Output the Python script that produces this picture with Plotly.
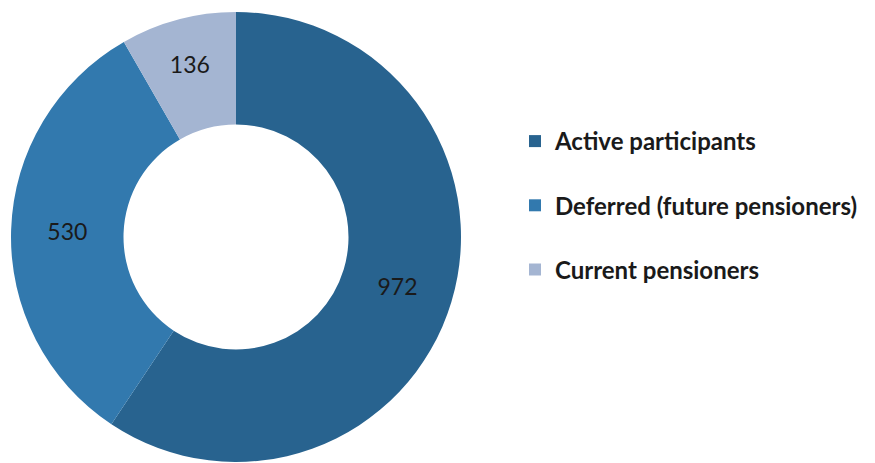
import plotly.graph_objects as go

# Participant counts by category
labels = ["Active participants", "Deferred (future pensioners)", "Current pensioners"]
values = [972, 530, 136]
colors = ["#28638F", "#3279AE", "#A4B5D2"]

fig = go.Figure()

fig.add_trace(go.Pie(
    labels=labels,
    values=values,
    hole=0.5,
    sort=False,
    direction="clockwise",
    rotation=0,
    marker=dict(colors=colors, line=dict(width=0)),
    textinfo="value",
    textposition="inside",
    insidetextorientation="horizontal",
    textfont=dict(family="Lato", size=23, color="#1a1a1a"),
    domain=dict(x=[10 / 875, 462 / 875], y=[0, 1]),
    showlegend=False,
    hoverinfo="label+value",
))

# legend entries (one group each so the gap between rows can be set)
for lab, col in zip(labels, colors):
    fig.add_trace(go.Scatter(
        x=[None], y=[None], mode="markers", name=lab,
        marker=dict(symbol="square", size=15, color=col),
        legendgroup=lab, showlegend=True,
    ))

fig.update_layout(
    width=875, height=463,
    margin=dict(l=0, r=0, t=12, b=1),
    paper_bgcolor="white",
    plot_bgcolor="white",
    xaxis=dict(visible=False),
    yaxis=dict(visible=False),
    legend=dict(
        x=515 / 875, xanchor="left",
        y=1 - 107 / 450, yanchor="top",
        font=dict(family="Lato", size=24, color="#1a1a1a", weight="bold"),
        tracegroupgap=30,
        itemsizing="constant",
        bgcolor="rgba(0,0,0,0)",
    ),
)

# drop the browser's default body margin so the figure sits at the page corner
fig.write_html("out.html", config={"displayModeBar": False},
               post_script="document.body.style.margin='0';")
